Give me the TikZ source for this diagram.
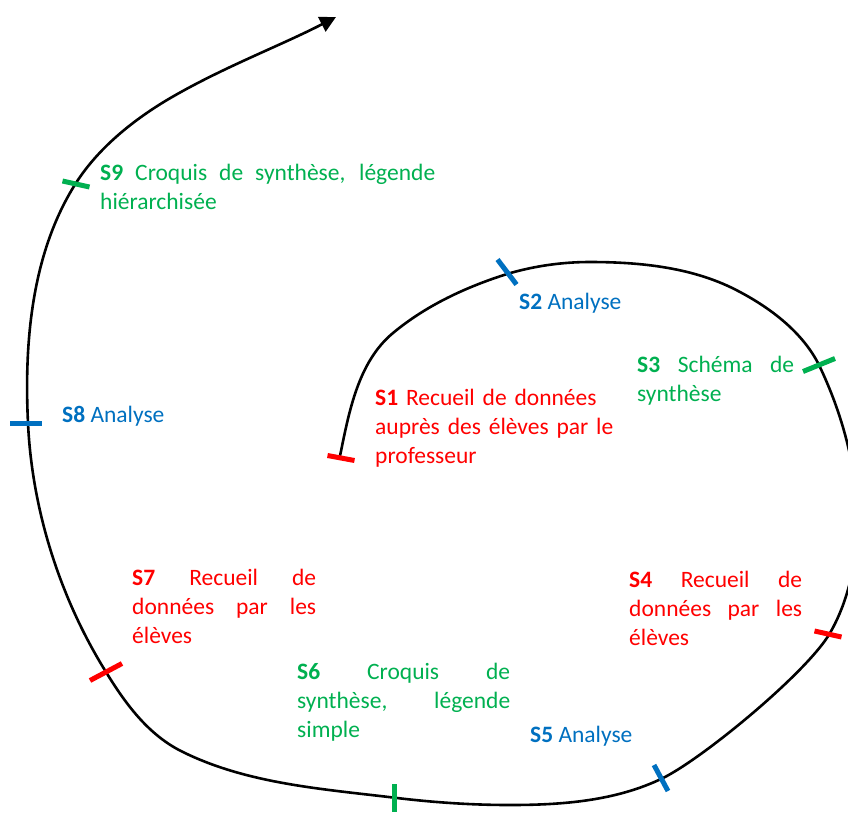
\documentclass[tikz,border=0pt]{standalone}
\usepackage{fontspec}
\setmainfont{Carlito}
\usepackage{tikz}
\usetikzlibrary{arrows.meta}
\definecolor{stepred}{HTML}{FF0000}
\definecolor{stepgreen}{HTML}{00B050}
\definecolor{stepblue}{HTML}{0070C0}
\tolerance=10000
\hbadness=10000
\tikzset{
  spiral/.style={line width=2.6pt, -{Triangle[length=16pt,width=16pt]}},
  tickmark/.style={line width=5pt},
  steptext/.style={anchor=base west, inner sep=0pt, font=\fontsize{23.5}{29}\selectfont},
  stepblock/.style={steptext, align=justify}
}

\begin{document}
\begin{tikzpicture}[x=1pt,y=-1pt]
  \useasboundingbox (0,0) rectangle (848,812);

  \draw[spiral] (340,456) .. controls (349,412) and (358,362) .. (393,333)
    .. controls (426,305.5) and (466,287) .. (507,274)
    .. controls (534,266) and (562,262) .. (590,262)
    .. controls (641,262) and (695,267.5) .. (740,292)
    .. controls (772,309) and (803,333) .. (819,365)
    .. controls (842,413) and (857,467) .. (857,520)
    .. controls (857,559) and (849.5,599) .. (830,633)
    .. controls (807.5,672) and (703.5,758) .. (663,778)
    .. controls (616,801) and (562,805) .. (510,805)
    .. controls (472,805) and (435,802.5) .. (397,798)
    .. controls (323.5,789) and (245,784) .. (179,750)
    .. controls (147,733) and (125,703) .. (106,672)
    .. controls (60,598) and (32,510) .. (28,423)
    .. controls (24,341) and (32,252) .. (76,183)
    .. controls (98,148.5) and (132,121) .. (167,100)
    .. controls (221,68) and (280,46) .. (336,17);

  \coordinate (t1) at (341,458);
  \coordinate (t2) at (507,272);
  \coordinate (t3) at (819,365);
  \coordinate (t4) at (828,634);
  \coordinate (t5) at (661,778);
  \coordinate (t6) at (394,798);
  \coordinate (t7) at (106,672);
  \coordinate (t8) at (26,423);
  \coordinate (t9) at (76,184);

  \draw[tickmark, stepred] (t1) ++(-13.5,-2.5) -- ++(27,5);
  \draw[tickmark, stepblue] (t2) ++(-9.5,-12.5) -- ++(19,25);
  \draw[tickmark, stepgreen] (t3) ++(-16,6.5) -- ++(32,-13);
  \draw[tickmark, stepred] (t4) ++(-13.5,-3) -- ++(27,6);
  \draw[tickmark, stepblue] (t5) ++(-7,-13) -- ++(14,26);
  \draw[tickmark, stepgreen] (t6) ++(0,-14) -- ++(0,28);
  \draw[tickmark, stepred] (t7) ++(-16,8.5) -- ++(32,-17);
  \draw[tickmark, stepblue] (t8) ++(-16,0) -- ++(32,0);
  \draw[tickmark, stepgreen] (t9) ++(-13.5,-3) -- ++(27,6);

  \node[steptext, stepred, text width=260pt, align=left] (s1) at (375,405) {\textbf{S1} Recueil de données\\auprès des élèves par le\\professeur};
  \node[steptext, stepblue] (s2) at (519,309) {\textbf{S2} Analyse};
  \node[stepblock, stepgreen, text width=157pt] (s3) at (637,372) {\textbf{S3} Schéma de\linebreak synthèse};
  \node[stepblock, stepred, text width=173pt] (s4) at (629,587) {\textbf{S4} Recueil de\linebreak données par les\linebreak élèves};
  \node[steptext, stepblue] (s5) at (530,742) {\textbf{S5} Analyse};
  \node[stepblock, stepgreen, text width=213pt] (s6) at (297,679) {\textbf{S6} Croquis de\linebreak synthèse, légende\linebreak simple};
  \node[stepblock, stepred, text width=184pt] (s7) at (132,585) {\textbf{S7} Recueil de\linebreak données par les\linebreak élèves};
  \node[steptext, stepblue] (s8) at (62,422) {\textbf{S8} Analyse};
  \node[stepblock, stepgreen, text width=335pt] (s9) at (100,180) {\textbf{S9} Croquis de synthèse, légende\linebreak hiérarchisée};
\end{tikzpicture}
\end{document}
